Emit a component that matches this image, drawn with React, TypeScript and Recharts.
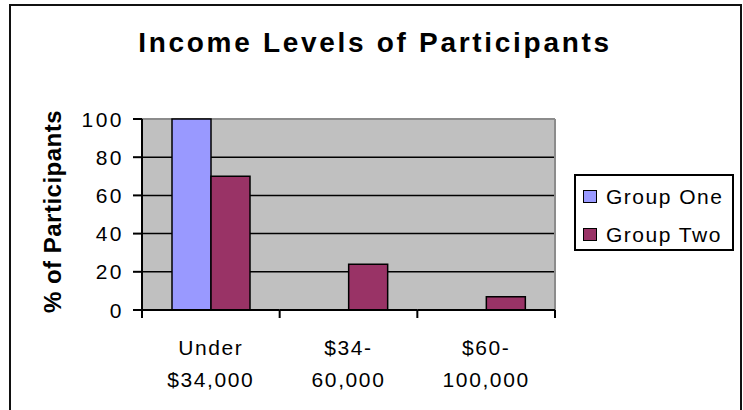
import React from 'react';
import { BarChart, Bar, XAxis, YAxis, CartesianGrid, Legend } from 'recharts';

const categories = ['Under\n$34,000', '$34-\n60,000', '$60-\n100,000'];
const groupOne = [100, 0, 0];
const groupTwo = [70, 24, 7];
const yTicks = [0, 20, 40, 60, 80, 100];
const gridValues = [20, 40, 60, 80];

const data = categories.map((c, i) => ({ name: c, groupOne: groupOne[i], groupTwo: groupTwo[i] }));

const FONT = '"Liberation Sans", Arial, sans-serif';
const CHART_W = 743;
const CHART_H = 410;
const MARGIN = { top: 119, right: 188, bottom: 0, left: 0 };
const Y_AXIS_W = 142;
const X_AXIS_H = 100;
const PLOT_H = CHART_H - MARGIN.top - MARGIN.bottom - X_AXIS_H;
const TICK_SIZE = 9;
const TICK_MARGIN = 9;
const EDGE = '#8c8c8c';

// category labels centred in the band; axis line and edge ticks
const CategoryTick = (props: any) => {
  const { x, y, payload, index, visibleTicksCount } = props;
  const half = payload.offset || 0;
  const lines = String(payload.value).split('\n');
  const first = index === 0;
  const last = index === (visibleTicksCount || categories.length) - 1;
  return (
    <g>
      <line x1={x - half - (first ? 1 : 0)} x2={x + half} y1={y} y2={y} stroke="#000" strokeWidth={2} />
      <line x1={x - half} x2={x - half} y1={y} y2={y + 8} stroke="#000" strokeWidth={2} />
      {last && <line x1={x + half} x2={x + half} y1={y} y2={y + 8} stroke="#000" strokeWidth={2} />}
      {lines.map((l, i) => (
        <text
          key={i}
          x={x}
          y={y + 45 + i * 32}
          textAnchor="middle"
          fontSize={21}
          letterSpacing={1.6}
          fontFamily={FONT}
          fill="#000"
        >
          {l}
        </text>
      ))}
    </g>
  );
};

// value labels with tick marks; the bottom tick also carries the axis line
const ValueTick = (props: any) => {
  const { x, y, payload } = props;
  const ax = x + TICK_MARGIN + TICK_SIZE;
  const isBottom = payload.value === yTicks[0];
  return (
    <g>
      {isBottom && <line x1={ax} x2={ax} y1={y - PLOT_H} y2={y + 1} stroke="#000" strokeWidth={2} />}
      <line x1={x + TICK_MARGIN} x2={ax} y1={y} y2={y} stroke="#000" strokeWidth={2} />
      <text
        x={x}
        y={y}
        dy="0.36em"
        textAnchor="end"
        fontSize={21}
        letterSpacing={2.5}
        fontFamily={FONT}
        fill="#000"
      >
        {payload.value}
      </text>
    </g>
  );
};

const YLabel = (props: any) => {
  const vb = props.viewBox || { x: 0, y: 0, height: 0 };
  return (
    <text
      transform={`translate(${vb.x + 61},${vb.y + vb.height / 2 - 3}) rotate(-90)`}
      textAnchor="middle"
      fontSize={24}
      fontWeight="bold"
      letterSpacing={0.5}
      fontFamily={FONT}
      fill="#000"
    >
      % of Participants
    </text>
  );
};

const LegendBox = (props: any) => {
  const items = props.payload || [];
  return (
    <div
      style={{
        width: 160,
        height: 77,
        boxSizing: 'border-box',
        border: '2px solid #000',
        background: '#fff',
        paddingTop: 2,
        fontFamily: FONT,
        fontSize: 21,
        letterSpacing: 1.5,
        color: '#000',
      }}
    >
      {items.map((it: any) => (
        <div key={it.value} style={{ lineHeight: '38px', whiteSpace: 'nowrap', paddingLeft: 7 }}>
          <span
            style={{
              display: 'inline-block',
              width: 14,
              height: 13,
              boxSizing: 'border-box',
              border: '1px solid #000',
              background: it.color,
              marginRight: 9,
              marginBottom: 1,
            }}
          />
          {it.value}
        </div>
      ))}
    </div>
  );
};

export default function App() {
  return (
    <div style={{ position: 'absolute', left: 0, top: 0, width: CHART_W, height: CHART_H, overflow: 'hidden', background: '#fff' }}>
      <div
        style={{
          position: 'absolute',
          left: 9,
          top: 4,
          width: 733,
          height: 500,
          boxSizing: 'border-box',
          border: '2px solid #111',
        }}
      />
      <div
        style={{
          position: 'absolute',
          left: 0,
          top: 29,
          width: 750,
          textAlign: 'center',
          fontFamily: FONT,
          fontWeight: 'bold',
          fontSize: 28,
          lineHeight: '28px',
          letterSpacing: 2.7,
          color: '#000',
        }}
      >
        Income Levels of Participants
      </div>
      <div style={{ position: 'absolute', left: 0, top: 0 }}>
        <BarChart
          width={CHART_W}
          height={CHART_H}
          data={data}
          margin={MARGIN}
          barGap={0}
          barSize={39}
        >
          <CartesianGrid
            vertical={false}
            stroke="#000"
            strokeWidth={1.5}
            fill="#C0C0C0"
            fillOpacity={1}
            horizontalValues={gridValues}
          />
          <CartesianGrid
            stroke={EDGE}
            strokeWidth={2}
            horizontalCoordinatesGenerator={({ offset }: any) => [offset.top]}
            verticalCoordinatesGenerator={({ offset }: any) => [offset.left + offset.width]}
          />
          <XAxis
            dataKey="name"
            height={X_AXIS_H}
            tickSize={0}
            tickMargin={0}
            tickLine={false}
            axisLine={false}
            tick={<CategoryTick />}
            interval={0}
          />
          <YAxis
            domain={[0, 100]}
            ticks={yTicks}
            width={Y_AXIS_W}
            tickSize={TICK_SIZE}
            tickMargin={TICK_MARGIN}
            axisLine={false}
            tickLine={false}
            tick={<ValueTick />}
            label={<YLabel />}
          />
          <Legend
            layout="vertical"
            align="center"
            verticalAlign="middle"
            content={<LegendBox />}
            wrapperStyle={{ left: 574, top: 174, width: 160, height: 77 }}
          />
          <Bar dataKey="groupOne" name="Group One" fill="#9999FF" stroke="#000" strokeWidth={1.5} isAnimationActive={false} />
          <Bar dataKey="groupTwo" name="Group Two" fill="#993366" stroke="#000" strokeWidth={1.5} isAnimationActive={false} />
        </BarChart>
      </div>
    </div>
  );
}
